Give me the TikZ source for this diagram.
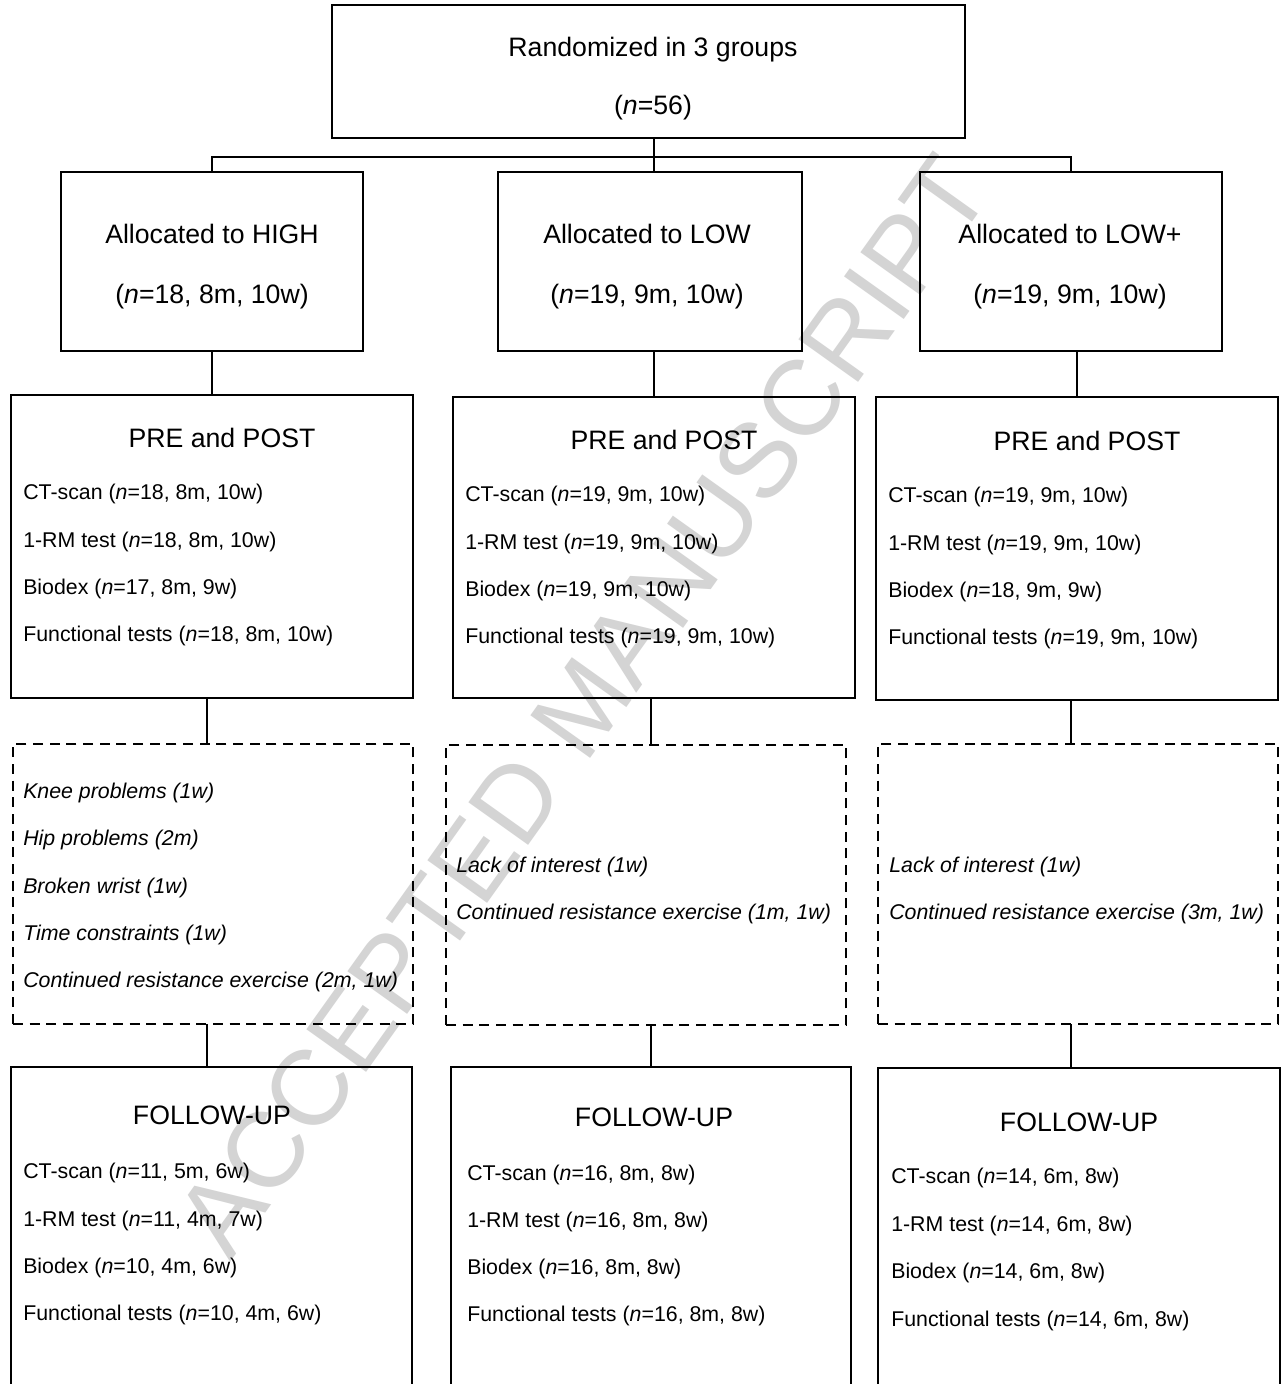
\documentclass[tikz,border=0pt]{standalone}
\usepackage{fontspec}
\setmainfont{Liberation Sans}
\newcommand\mkbox[6]{\node[#6, minimum width={(#4-#2)*0.75pt}, minimum height={(#5-#3)*0.75pt}] (#1) at (#2,#3) {};}
\begin{document}
\begin{tikzpicture}[x=0.75pt,y=-0.75pt,
  box/.style={draw, line width=1.3pt, inner sep=0pt, outer sep=0pt, anchor=north west},
  dbox/.style={box, dash pattern=on 7.5pt off 5pt},
  ttl/.style={anchor=base, font=\fontsize{20}{24}\selectfont, inner sep=0pt},
  txt/.style={anchor=base west, font=\fontsize{16}{19}\selectfont, inner sep=0pt},
  itxt/.style={anchor=base west, font=\fontsize{16}{19}\selectfont\itshape, inner sep=0pt},
  conn/.style={line width=1.3pt},
  wm/.style={text=black!17, rotate=54.5, font=\fontsize{80}{80}\selectfont, inner sep=0pt}]
\useasboundingbox (0,0) rectangle (1282,1384);
\clip (0,0) rectangle (1282,1384);
\fill[white] (0,0) rectangle (1282,1384);
% watermark
\node[wm] (wmark) at (583,706) {ACCEPTED MANUSCRIPT};
% boxes
\mkbox{top}{332}{5}{965}{138}{box}
\mkbox{ha}{61}{172}{363}{351}{box}
\mkbox{la}{498}{172}{802}{351}{box}
\mkbox{pa}{920}{172}{1222}{351}{box}
\mkbox{hb}{11}{395}{413}{698}{box}
\mkbox{lb}{453}{397}{855}{698}{box}
\mkbox{pb}{876}{397}{1278}{700}{box}
\mkbox{hc}{13}{744}{413}{1024}{dbox}
\mkbox{lc}{446}{745}{846}{1025}{dbox}
\mkbox{pc}{878}{744}{1278}{1024}{dbox}
\mkbox{hd}{11}{1067}{412}{1420}{box}
\mkbox{ld}{451}{1067}{851}{1420}{box}
\mkbox{pd}{878}{1068}{1280}{1420}{box}
% connectors
\coordinate (cx) at (654,0);
\coordinate (bar) at (0,157);
\coordinate (ca) at (207,0);
\coordinate (cb) at (651,0);
\coordinate (cc) at (1071,0);
\draw[conn] (top.south -| cx) -- (la.north -| cx);
\draw[conn] (ha.north) -- (ha.north |- bar) -- (pa.north |- bar) -- (pa.north);
\draw[conn] (hb.north) -- (hb.north |- ha.south);
\draw[conn] (lb.north) -- (lb.north |- la.south);
\draw[conn] (pb.north) -- (pb.north |- pa.south);
\draw[conn] (hb.south -| ca) -- (hc.north -| ca);
\draw[conn] (lb.south -| cb) -- (lc.north -| cb);
\draw[conn] (pb.south -| cc) -- (pc.north -| cc);
\draw[conn] (hc.south -| ca) -- (hd.north -| ca);
\draw[conn] (lc.south -| cb) -- (ld.north -| cb);
\draw[conn] (pc.south -| cc) -- (pd.north -| cc);
% top texts
\node[ttl] (t1) at (653,57) {Randomized in 3 groups};
\node[ttl] (t2) at (653,115) {(\textit{n}=56)};
% allocated
\node[ttl] (a1) at (212,243) {Allocated to HIGH};
\node[ttl] (a2) at (212,303) {(\textit{n}=18, 8m, 10w)};
\node[ttl] (a3) at (647,243) {Allocated to LOW};
\node[ttl] (a4) at (647,303) {(\textit{n}=19, 9m, 10w)};
\node[ttl] (a5) at (1070,243) {Allocated to LOW+};
\node[ttl] (a6) at (1070,303) {(\textit{n}=19, 9m, 10w)};
% PRE and POST
\node[ttl] (b0) at (222,447) {PRE and POST};
\node[txt] (b1) at (23,499) {CT-scan (\textit{n}=18, 8m, 10w)};
\node[txt] (b2) at (23,547) {1-RM test (\textit{n}=18, 8m, 10w)};
\node[txt] (b3) at (23,594) {Biodex (\textit{n}=17, 8m, 9w)};
\node[txt] (b4) at (23,641) {Functional tests (\textit{n}=18, 8m, 10w)};
\node[ttl] (c0) at (664,449) {PRE and POST};
\node[txt] (c1) at (465,501) {CT-scan (\textit{n}=19, 9m, 10w)};
\node[txt] (c2) at (465,549) {1-RM test (\textit{n}=19, 9m, 10w)};
\node[txt] (c3) at (465,596) {Biodex (\textit{n}=19, 9m, 10w)};
\node[txt] (c4) at (465,643) {Functional tests (\textit{n}=19, 9m, 10w)};
\node[ttl] (d0) at (1087,450) {PRE and POST};
\node[txt] (d1) at (888,502) {CT-scan (\textit{n}=19, 9m, 10w)};
\node[txt] (d2) at (888,550) {1-RM test (\textit{n}=19, 9m, 10w)};
\node[txt] (d3) at (888,597) {Biodex (\textit{n}=18, 9m, 9w)};
\node[txt] (d4) at (888,644) {Functional tests (\textit{n}=19, 9m, 10w)};
% dropouts
\node[itxt] (e1) at (23,798) {Knee problems (1w)};
\node[itxt] (e2) at (23,845) {Hip problems (2m)};
\node[itxt] (e3) at (23,893) {Broken wrist (1w)};
\node[itxt] (e4) at (23,940) {Time constraints (1w)};
\node[itxt] (e5) at (23,987) {Continued resistance exercise (2m, 1w)};
\node[itxt] (f1) at (456,872) {Lack of interest (1w)};
\node[itxt] (f2) at (456,919) {Continued resistance exercise (1m, 1w)};
\node[itxt] (g1) at (889,872) {Lack of interest (1w)};
\node[itxt] (g2) at (889,919) {Continued resistance exercise (3m, 1w)};
% follow-up
\node[ttl] (h0) at (212,1124) {FOLLOW-UP};
\node[txt] (h1) at (23,1178) {CT-scan (\textit{n}=11, 5m, 6w)};
\node[txt] (h2) at (23,1226) {1-RM test (\textit{n}=11, 4m, 7w)};
\node[txt] (h3) at (23,1273) {Biodex (\textit{n}=10, 4m, 6w)};
\node[txt] (h4) at (23,1320) {Functional tests (\textit{n}=10, 4m, 6w)};
\node[ttl] (i0) at (654,1126) {FOLLOW-UP};
\node[txt] (i1) at (467,1180) {CT-scan (\textit{n}=16, 8m, 8w)};
\node[txt] (i2) at (467,1227) {1-RM test (\textit{n}=16, 8m, 8w)};
\node[txt] (i3) at (467,1274) {Biodex (\textit{n}=16, 8m, 8w)};
\node[txt] (i4) at (467,1321) {Functional tests (\textit{n}=16, 8m, 8w)};
\node[ttl] (j0) at (1079,1131) {FOLLOW-UP};
\node[txt] (j1) at (891,1183) {CT-scan (\textit{n}=14, 6m, 8w)};
\node[txt] (j2) at (891,1231) {1-RM test (\textit{n}=14, 6m, 8w)};
\node[txt] (j3) at (891,1278) {Biodex (\textit{n}=14, 6m, 8w)};
\node[txt] (j4) at (891,1326) {Functional tests (\textit{n}=14, 6m, 8w)};
\end{tikzpicture}
\end{document}
